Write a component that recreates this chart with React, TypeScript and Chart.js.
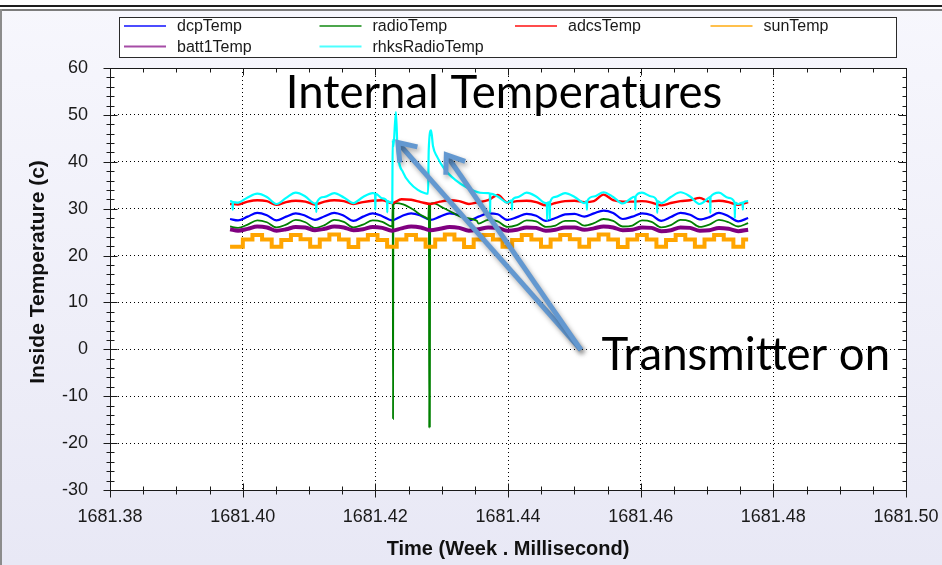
import React, { useEffect, useRef } from 'react';
import { Chart, registerables } from 'chart.js';

Chart.register(...registerables);

// ---------------- data ----------------
const seriesNames = ['dcpTemp', 'radioTemp', 'adcsTemp', 'sunTemp', 'batt1Temp', 'rhksRadioTemp'];
const seriesColors = ['#0000ff', '#008000', '#ff0000', '#ffa500', '#800080', '#00ffff'];

const xMin = 1681.38;
const xMax = 1681.5;
const xStep = 0.02;
const yMin = -30;
const yMax = 60;
const yStep = 10;

const times = [
  1681.3981, 1681.3993, 1681.40075, 1681.4022, 1681.40365, 1681.4051, 1681.40655, 1681.408, 1681.40945, 1681.4109,
  1681.41235, 1681.4138, 1681.41525, 1681.4167, 1681.41815, 1681.4196, 1681.42105, 1681.4225, 1681.42395, 1681.4254,
  1681.42685, 1681.4283, 1681.42975, 1681.4312, 1681.43265, 1681.4341, 1681.43555, 1681.437, 1681.43845, 1681.4399,
  1681.44135, 1681.4428, 1681.44425, 1681.4457, 1681.44715, 1681.4486, 1681.45005, 1681.4515, 1681.45295, 1681.4544,
  1681.45585, 1681.4573, 1681.45875, 1681.4602, 1681.46165, 1681.4631, 1681.46455, 1681.466, 1681.46745, 1681.4689,
  1681.47035, 1681.4718, 1681.47325, 1681.4747, 1681.4762,
];

const dcpTemp = [
  27.8, 27.5, 28.3, 29.1, 28.6, 27.5, 28.3, 29.0, 28.5, 27.6,
  28.4, 29.1, 28.5, 27.4, 28.3, 29.0, 28.4, 27.5, 28.4, 29.0,
  28.5, 27.6, 28.3, 29.0, 28.6, 27.5, 28.3, 29.0, 28.8, 27.6,
  28.2, 28.9, 28.5, 27.4, 28.0, 28.8, 28.9, 28.3, 29.0, 29.6,
  29.1, 27.8, 28.3, 29.0, 28.6, 27.4, 28.2, 29.1, 28.7, 27.7,
  28.2, 29.1, 28.4, 27.3, 28.0,
];

const radioTemp = [
  26.2, 25.9, 26.6, 27.5, 27.1, 26.0, 26.6, 27.6, 27.1, 25.9,
  26.5, 27.6, 27.2, 26.0, 26.6, 27.5, 27.2, 26.2, 27.0, 28.5,
  28.0, 27.6, 30.0, 29.0, 28.0, 27.5, 26.8, 27.6, 27.3, 26.1,
  26.5, 27.5, 27.3, 26.1, 26.4, 27.4, 27.4, 26.4, 26.9, 27.8,
  27.4, 26.2, 26.4, 27.5, 27.2, 26.0, 26.5, 27.6, 27.3, 26.1,
  26.6, 27.6, 27.1, 26.2, 26.9,
];

const adcsTemp = [
  31.0, 30.9, 31.5, 31.8, 31.6, 30.8, 31.4, 31.7, 31.5, 30.9,
  31.5, 31.8, 31.6, 31.0, 31.4, 31.7, 31.8, 31.2, 32.0, 31.9,
  31.4, 31.0, 31.5, 31.8, 31.6, 31.0, 31.4, 31.8, 32.9, 31.3,
  31.6, 31.7, 31.4, 30.7, 31.2, 31.6, 31.7, 31.4, 31.6, 33.0,
  31.8, 31.5, 31.5, 31.6, 31.3, 30.7, 31.2, 31.6, 31.8, 32.3,
  31.5, 31.7, 31.4, 30.8, 31.4,
];

const sunTemp = [
  21.9, 21.9, 23.4, 24.4, 23.4, 21.9, 23.3, 24.4, 23.5, 21.9,
  23.4, 24.5, 23.4, 21.8, 23.4, 24.4, 23.3, 21.9, 23.4, 24.4,
  23.4, 21.9, 23.4, 24.5, 23.4, 21.8, 23.4, 24.4, 23.4, 21.9,
  23.3, 24.4, 23.4, 21.9, 23.4, 24.4, 23.5, 21.9, 23.4, 24.5,
  23.4, 21.8, 23.4, 24.4, 23.4, 21.9, 23.3, 24.4, 23.4, 21.9,
  23.4, 24.4, 23.4, 21.9, 23.4,
];

const batt1Temp = [
  25.6, 25.3, 25.7, 26.2, 26.0, 25.3, 25.6, 26.1, 26.0, 25.4,
  25.7, 26.2, 26.0, 25.4, 25.6, 26.1, 25.9, 25.3, 25.8, 26.2,
  26.0, 25.4, 25.7, 26.1, 25.9, 25.3, 25.6, 26.0, 25.9, 25.3,
  25.5, 26.0, 25.9, 25.3, 25.5, 26.0, 26.0, 25.5, 25.8, 26.2,
  26.0, 25.4, 25.5, 26.0, 25.9, 25.2, 25.4, 26.0, 25.9, 25.3,
  25.4, 25.9, 25.7, 25.2, 25.5,
];

const rhksRadioTemp = [
  31.6, 31.3, 32.4, 33.2, 32.5, 31.0, 32.3, 33.4, 32.6, 31.1,
  32.5, 33.3, 32.4, 31.2, 32.5, 33.3, 32.2, 31.2, 32.4, 33.2,
  32.4, 31.2, 32.3, 33.2, 32.4, 31.1, 32.4, 33.3, 32.6, 31.3,
  32.4, 33.4, 32.6, 31.2, 32.5, 33.3, 32.5, 31.2, 32.6, 33.5,
  32.5, 31.1, 32.4, 33.4, 32.6, 31.2, 32.5, 33.5, 32.6, 31.0,
  32.4, 33.4, 32.3, 31.0, 31.6,
];

// transmitter-on events (replace the base samples inside their time window)
const radioSpikeTimes = [
  1681.42255, 1681.42262, 1681.42267, 1681.42272, 1681.4231, 1681.4242, 1681.4257, 1681.4268, 1681.4276,
  1681.428, 1681.42807, 1681.42812, 1681.42817, 1681.42822, 1681.42827, 1681.4287, 1681.4302, 1681.4317,
  1681.4332, 1681.4353,
];
const radioSpikeValues = [
  26.3, 31.0, -14.8, 30.8, 31.2, 30.9, 29.8, 28.7, 28.1,
  27.8, 31.0, -16.8, 31.2, -16.4, 31.0, 31.2, 30.2, 29.1,
  28.1, 27.4,
];

const rhksSpikeTimes = [
  1681.42255, 1681.42262, 1681.42272, 1681.4231, 1681.42335, 1681.4242, 1681.4252, 1681.4264, 1681.4275,
  1681.42795, 1681.42805, 1681.4284, 1681.4287, 1681.4293, 1681.4305, 1681.432, 1681.4338, 1681.4358,
];
const rhksSpikeValues = [
  31.4, 44.6, 43.2, 50.6, 42.6, 37.7, 35.5, 34.0, 33.3,
  33.2, 42.5, 46.7, 43.3, 41.1, 38.3, 36.2, 34.5, 33.4,
];

// short downward glitches of rhksRadioTemp
const rhksDipTimes = [
  1681.3985, 1681.4111, 1681.42, 1681.4218, 1681.4373, 1681.4406, 1681.4459, 1681.4463, 1681.4519, 1681.4592,
  1681.4625, 1681.4705, 1681.4742, 1681.4754,
];
const rhksDipValues = [29.8, 29.3, 29.8, 29.2, 29.1, 29.8, 27.6, 27.8, 29.8, 29.8, 29.1, 29.1, 28.0, 29.8];
const rhksDipBase = [31.4, 31.2, 33.2, 31.6, 33.2, 31.8, 31.2, 31.4, 31.6, 32.6, 31.6, 32.5, 31.3, 31.3];

// annotations (data coordinates)
const titleText = 'Internal Temperatures';
const titlePos = [1681.4065, 51.5];
const noteText = 'Transmitter on';
const notePos = [1681.4541, -4.5];
const arrowTail = [1681.451, -0.1];
const arrowTips = [
  [1681.4234, 44.1],
  [1681.4307, 41.5],
];

// ---------------- helpers ----------------
type P = { x: number; y: number };

function basePoints(vals: number[]): P[] {
  return times.map((t, i) => ({ x: t, y: vals[i] }));
}

function withEvent(base: P[], et: number[], ev: number[]): P[] {
  const lo = Math.min(...et);
  const hi = Math.max(...et);
  const kept = base.filter((p) => p.x < lo || p.x > hi);
  return kept.concat(et.map((t, i) => ({ x: t, y: ev[i] }))).sort((a, b) => a.x - b.x);
}

function withDips(pts: P[], dt: number[], dv: number[], db: number[]): P[] {
  const w = 0.00004;
  const extra: P[] = [];
  dt.forEach((t, i) => {
    extra.push({ x: t - w, y: db[i] }, { x: t, y: dv[i] }, { x: t + w, y: db[i] });
  });
  return pts.concat(extra).sort((a, b) => a.x - b.x);
}

const SANS = "'Liberation Sans', Arial, sans-serif";

const decorPlugin = {
  id: 'decor',
  beforeDraw(chart: any) {
    const { ctx, width, height, chartArea: a } = chart;
    ctx.save();
    const g = ctx.createLinearGradient(0, 0, 0, height);
    g.addColorStop(0, '#f7f7fd');
    g.addColorStop(1, '#e8e8f5');
    ctx.fillStyle = g;
    ctx.fillRect(0, 0, width, height);
    ctx.fillStyle = '#ffffff';
    ctx.fillRect(0, 0, width, 9);
    ctx.fillStyle = '#1e1e1e';
    ctx.fillRect(0, 5, width, 2);
    ctx.fillStyle = '#7c7c7c';
    ctx.fillRect(0, 9, width, 2);
    ctx.fillStyle = '#8c8c8c';
    ctx.fillRect(0, 9, 2, height - 9);
    ctx.fillStyle = '#ffffff';
    ctx.fillRect(a.left, a.top, a.right - a.left, a.bottom - a.top);
    ctx.restore();
  },
  afterDraw(chart: any) {
    const { ctx, chartArea: a } = chart;
    const xs = chart.scales.x;
    const ys = chart.scales.y;
    const X = (v: number) => xs.getPixelForValue(v);
    const Y = (v: number) => ys.getPixelForValue(v);
    const L = Math.round(a.left) + 0.5;
    const R = Math.round(a.right) + 0.5;
    const T = Math.round(a.top) + 0.5;
    const B = Math.round(a.bottom) + 0.5;
    ctx.save();
    ctx.strokeStyle = '#1a1a1a';
    ctx.lineWidth = 1;
    ctx.strokeRect(L, T, R - L, B - T);
    const line = (x1: number, y1: number, x2: number, y2: number) => {
      ctx.beginPath();
      ctx.moveTo(x1, y1);
      ctx.lineTo(x2, y2);
      ctx.stroke();
    };
    const nY = Math.round((ys.max - ys.min) / 2);
    for (let i = 0; i <= nY; i++) {
      const v = ys.min + i * 2;
      const y = Math.round(Y(v)) + 0.5;
      const major = i % 5 === 0;
      const len = major ? 7 : 4;
      line(L - len, y, L + len, y);
      line(R - (major ? 8 : 4), y, R, y);
    }
    const nX = Math.round((xs.max - xs.min) / 0.005);
    for (let i = 0; i <= nX; i++) {
      const v = xs.min + i * 0.005;
      const x = Math.round(X(v)) + 0.5;
      const major = i % 4 === 0;
      const len = major ? 7 : 4;
      line(x, B - len, x, B + len);
      line(x, T, x, T + (major ? 7 : 4));
    }

    // axis titles
    ctx.fillStyle = '#111';
    ctx.font = `bold 20px ${SANS}`;
    ctx.textAlign = 'center';
    ctx.textBaseline = 'middle';
    ctx.fillText('Time (Week . Millisecond)', (a.left + a.right) / 2, 549);
    ctx.save();
    ctx.translate(38, 272);
    ctx.rotate(-Math.PI / 2);
    ctx.font = `bold 21px ${SANS}`;
    ctx.fillText('Inside Temperature (c)', 0, 0);
    ctx.restore();

    // legend
    ctx.fillStyle = '#ffffff';
    ctx.fillRect(119, 17, 778, 40);
    ctx.strokeStyle = '#2a2a2a';
    ctx.strokeRect(119.5, 17.5, 777, 40);
    const cols = [124, 319.5, 515, 710.5];
    const rows = [26, 46.5];
    ctx.font = `16px ${SANS}`;
    ctx.textAlign = 'left';
    ctx.textBaseline = 'middle';
    seriesNames.forEach((name, i) => {
      const cx = cols[i % 4];
      const cy = rows[Math.floor(i / 4)];
      ctx.save();
      ctx.globalAlpha = 0.7;
      ctx.strokeStyle = seriesColors[i];
      ctx.lineWidth = 2;
      line(cx, cy, cx + 42, cy);
      ctx.restore();
      ctx.fillStyle = '#1a1a1a';
      ctx.fillText(name, cx + 53, cy + 1);
    });

    // annotations
    ctx.fillStyle = '#000';
    ctx.font = `45.5px Lato, 'Open Sans', sans-serif`;
    ctx.textAlign = 'left';
    ctx.textBaseline = 'alphabetic';
    ctx.fillText(titleText, X(titlePos[0]), Y(titlePos[1]));
    ctx.fillText(noteText, X(notePos[0]), Y(notePos[1]));

    ctx.strokeStyle = '#6398d0';
    ctx.lineWidth = 5;
    ctx.lineJoin = 'miter';
    ctx.shadowColor = 'rgba(0,0,0,0.35)';
    ctx.shadowBlur = 5;
    ctx.shadowOffsetX = 2;
    ctx.shadowOffsetY = 3;
    const th = (36 * Math.PI) / 180;
    const hl = 20;
    arrowTips.forEach((tip) => {
      const tx = X(arrowTail[0]);
      const ty = Y(arrowTail[1]);
      const hx = X(tip[0]);
      const hy = Y(tip[1]);
      const ang = Math.atan2(ty - hy, tx - hx);
      ctx.beginPath();
      ctx.moveTo(tx, ty);
      ctx.lineTo(hx + 3 * Math.cos(ang), hy + 3 * Math.sin(ang));
      ctx.stroke();
      ctx.beginPath();
      ctx.moveTo(hx + hl * Math.cos(ang + th), hy + hl * Math.sin(ang + th));
      ctx.lineTo(hx, hy);
      ctx.lineTo(hx + hl * Math.cos(ang - th), hy + hl * Math.sin(ang - th));
      ctx.stroke();
    });
    ctx.restore();
  },
};

export default function App() {
  const ref = useRef<HTMLCanvasElement>(null);
  useEffect(() => {
    const canvas = ref.current;
    if (!canvas) return;
    const seriesData: P[][] = [
      basePoints(dcpTemp),
      withEvent(basePoints(radioTemp), radioSpikeTimes, radioSpikeValues),
      basePoints(adcsTemp),
      basePoints(sunTemp),
      basePoints(batt1Temp),
      withDips(withEvent(basePoints(rhksRadioTemp), rhksSpikeTimes, rhksSpikeValues), rhksDipTimes, rhksDipValues, rhksDipBase),
    ];
    const widths = [2.2, 1.8, 2.4, 4, 4, 2.2];
    const datasets = seriesNames.map((name, i) => ({
      label: name,
      data: seriesData[i],
      borderColor: seriesColors[i],
      backgroundColor: seriesColors[i],
      borderWidth: widths[i],
      pointRadius: 0,
      fill: false,
      order: seriesNames.length - i,
      ...(name === 'sunTemp' ? { stepped: 'middle' as const } : { cubicInterpolationMode: 'monotone' as const }),
    }));
    const chart = new Chart(canvas, {
      type: 'line',
      data: { datasets },
      options: {
        animation: false,
        responsive: false,
        devicePixelRatio: 1,
        layout: { padding: { left: 0, top: 68, right: 36, bottom: 0 } },
        plugins: { legend: { display: false }, tooltip: { enabled: false } },
        scales: {
          x: {
            type: 'linear',
            min: xMin,
            max: xMax,
            afterFit: (s: any) => {
              s.height = 75;
              s.paddingLeft = 0;
              s.paddingRight = 0;
            },
            ticks: {
              stepSize: xStep,
              autoSkip: false,
              maxRotation: 0,
              padding: 16,
              color: '#1a1a1a',
              font: { family: SANS, size: 18 },
              callback: (v: any) => Number(v).toFixed(2),
            },
            grid: { color: '#000', lineWidth: 1, drawTicks: false },
            border: { display: false, dash: [1, 3] },
          },
          y: {
            type: 'linear',
            min: yMin,
            max: yMax,
            afterFit: (s: any) => {
              s.width = 110;
              s.paddingTop = 0;
              s.paddingBottom = 0;
            },
            ticks: {
              stepSize: yStep,
              padding: 22,
              color: '#1a1a1a',
              font: { family: SANS, size: 18 },
            },
            grid: { color: '#000', lineWidth: 1, drawTicks: false },
            border: { display: false, dash: [1, 3] },
          },
        },
      },
      plugins: [decorPlugin],
    });
    return () => chart.destroy();
  }, []);
  return (
    <div style={{ position: 'fixed', left: 0, top: 0, width: 942, height: 565 }}>
      <canvas ref={ref} width={942} height={565} style={{ display: 'block' }} />
    </div>
  );
}
